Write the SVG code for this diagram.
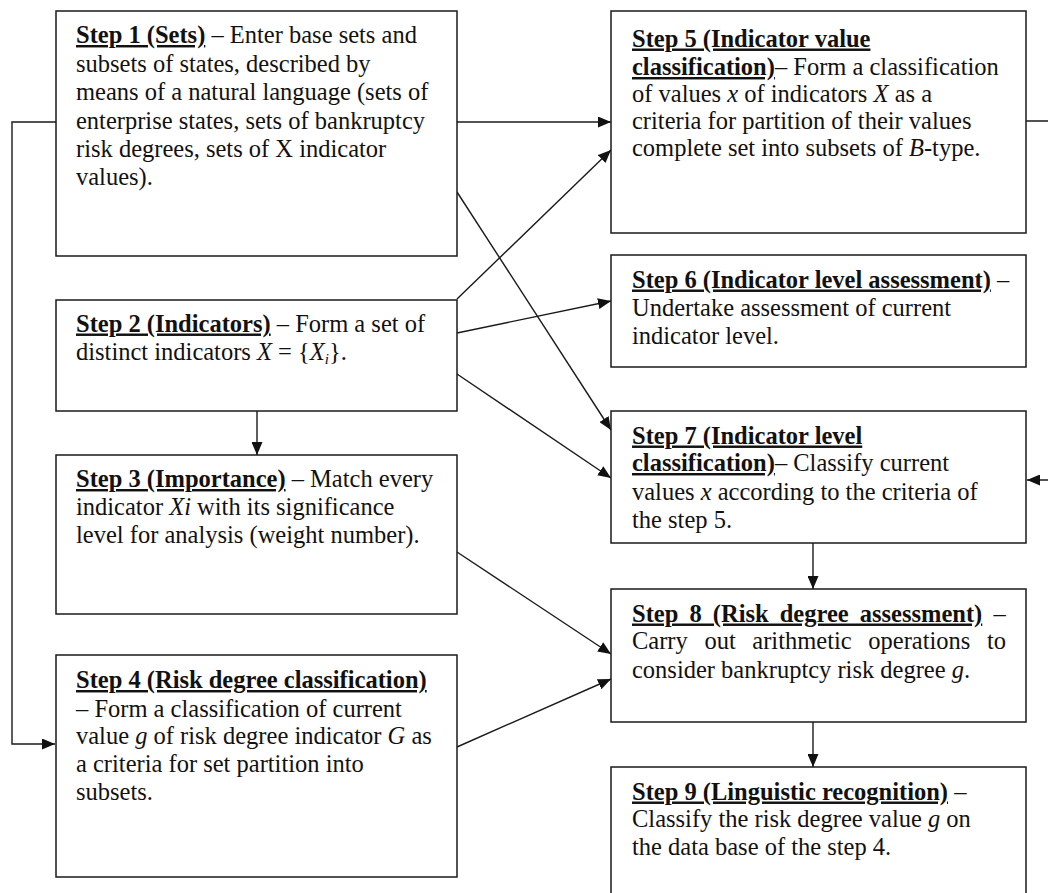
<svg xmlns="http://www.w3.org/2000/svg" width="1048" height="893" viewBox="0 0 1048 893">
<style>
  .box { fill: #ffffff; stroke: #1a1a1a; stroke-width: 1.5; }
  .t { font-family: "Liberation Serif", "Times New Roman", serif; font-size: 24.5px; fill: #111111; }
  .h { font-weight: bold; text-decoration: underline; }
  .i { font-style: italic; }
  .conn { fill: none; stroke: #1a1a1a; stroke-width: 1.4; }
</style>
<defs>
  <marker id="arr" markerUnits="userSpaceOnUse" markerWidth="13" markerHeight="11" refX="13" refY="5.5" orient="auto">
    <path d="M0,0 L13,5.5 L0,11 z" fill="#111111"/>
  </marker>
</defs>
<rect width="1048" height="893" fill="#ffffff"/>

<g id="connectors">
  <path class="conn" d="M56,122 H12 V744 H55" marker-end="url(#arr)"/>
  <path class="conn" d="M457,122 H611" marker-end="url(#arr)"/>
  <path class="conn" d="M457,192 L611,430" marker-end="url(#arr)"/>
  <path class="conn" d="M457,299 L611,150" marker-end="url(#arr)"/>
  <path class="conn" d="M457,333 L611,301" marker-end="url(#arr)"/>
  <path class="conn" d="M457,374 L611,478" marker-end="url(#arr)"/>
  <path class="conn" d="M257,411 V455" marker-end="url(#arr)"/>
  <path class="conn" d="M457,552 L611,654" marker-end="url(#arr)"/>
  <path class="conn" d="M457,747 L611,679" marker-end="url(#arr)"/>
  <path class="conn" d="M813,543 V589" marker-end="url(#arr)"/>
  <path class="conn" d="M813,722 V767" marker-end="url(#arr)"/>
  <path class="conn" d="M1026,121 H1052 V480 H1027" marker-end="url(#arr)"/>
</g>

<g id="step1">
  <rect class="box" x="56" y="11" width="401" height="245"/>
  <text class="t" x="76" y="43"><tspan class="h">Step 1 (Sets)</tspan> – Enter base sets and</text>
  <text class="t" x="76" y="71.5">subsets of states, described by</text>
  <text class="t" x="76" y="100">means of a natural language (sets of</text>
  <text class="t" x="76" y="128.5">enterprise states, sets of bankruptcy</text>
  <text class="t" x="76" y="157">risk degrees, sets of X indicator</text>
  <text class="t" x="76" y="185">values).</text>
</g>

<g id="step2">
  <rect class="box" x="56" y="300" width="401" height="111"/>
  <text class="t" x="76" y="331.5"><tspan class="h">Step 2 (Indicators)</tspan> – Form a set of</text>
  <text class="t" x="76" y="359.5">distinct indicators <tspan class="i">X</tspan> = {<tspan class="i">X</tspan><tspan class="i" font-size="15" dy="4">i</tspan><tspan dy="-4">}.</tspan></text>
</g>

<g id="step3">
  <rect class="box" x="56" y="455" width="401" height="159"/>
  <text class="t" x="76" y="487"><tspan class="h">Step 3 (Importance)</tspan> – Match every</text>
  <text class="t" x="76" y="515">indicator <tspan class="i">Xi</tspan> with its significance</text>
  <text class="t" x="76" y="543">level for analysis (weight  number).</text>
</g>

<g id="step4">
  <rect class="box" x="56" y="655" width="401" height="222"/>
  <text class="t" x="76" y="688"><tspan class="h">Step 4 (Risk degree classification)</tspan></text>
  <text class="t" x="76" y="716.5">– Form a classification of current</text>
  <text class="t" x="76" y="744">value <tspan class="i">g</tspan> of risk degree indicator <tspan class="i">G</tspan> as</text>
  <text class="t" x="76" y="772">a criteria for set partition into</text>
  <text class="t" x="76" y="800">subsets.</text>
</g>

<g id="step5">
  <rect class="box" x="611" y="11" width="415" height="222"/>
  <text class="t" x="632" y="46.5"><tspan class="h">Step 5 (Indicator value</tspan></text>
  <text class="t" x="632" y="75"><tspan class="h">classification)</tspan>– Form a classification</text>
  <text class="t" x="632" y="101.5">of values <tspan class="i">x</tspan> of indicators <tspan class="i">X</tspan> as a</text>
  <text class="t" x="632" y="128.5">criteria for partition of their values</text>
  <text class="t" x="632" y="156">complete set into subsets of <tspan class="i">B</tspan>-type.</text>
</g>

<g id="step6">
  <rect class="box" x="611" y="255" width="415" height="112"/>
  <text class="t" x="632" y="287.5"><tspan class="h">Step 6 (Indicator level assessment)</tspan> –</text>
  <text class="t" x="632" y="315.5">Undertake assessment of current</text>
  <text class="t" x="632" y="343.5">indicator level.</text>
</g>

<g id="step7">
  <rect class="box" x="611" y="411" width="415" height="132"/>
  <text class="t" x="632" y="443.5"><tspan class="h">Step 7 (Indicator level</tspan></text>
  <text class="t" x="632" y="471"><tspan class="h">classification)</tspan>– Classify current</text>
  <text class="t" x="632" y="499.5">values <tspan class="i">x</tspan> according to the criteria of</text>
  <text class="t" x="632" y="527.5">the step 5.</text>
</g>

<g id="step8">
  <rect class="box" x="611" y="589" width="415" height="133"/>
  <text class="t" x="632" y="621.5" word-spacing="5"><tspan class="h">Step 8 (Risk degree assessment)</tspan> –</text>
  <text class="t" x="632" y="649" word-spacing="10.5">Carry out arithmetic operations to</text>
  <text class="t" x="632" y="677.5">consider bankruptcy risk degree <tspan class="i">g</tspan>.</text>
</g>

<g id="step9">
  <rect class="box" x="611" y="767" width="415" height="140"/>
  <text class="t" x="632" y="799.5"><tspan class="h">Step 9 (Linguistic recognition)</tspan> –</text>
  <text class="t" x="632" y="827">Classify the risk degree value <tspan class="i">g</tspan> on</text>
  <text class="t" x="632" y="854.5">the data base of the step 4.</text>
</g>
</svg>
